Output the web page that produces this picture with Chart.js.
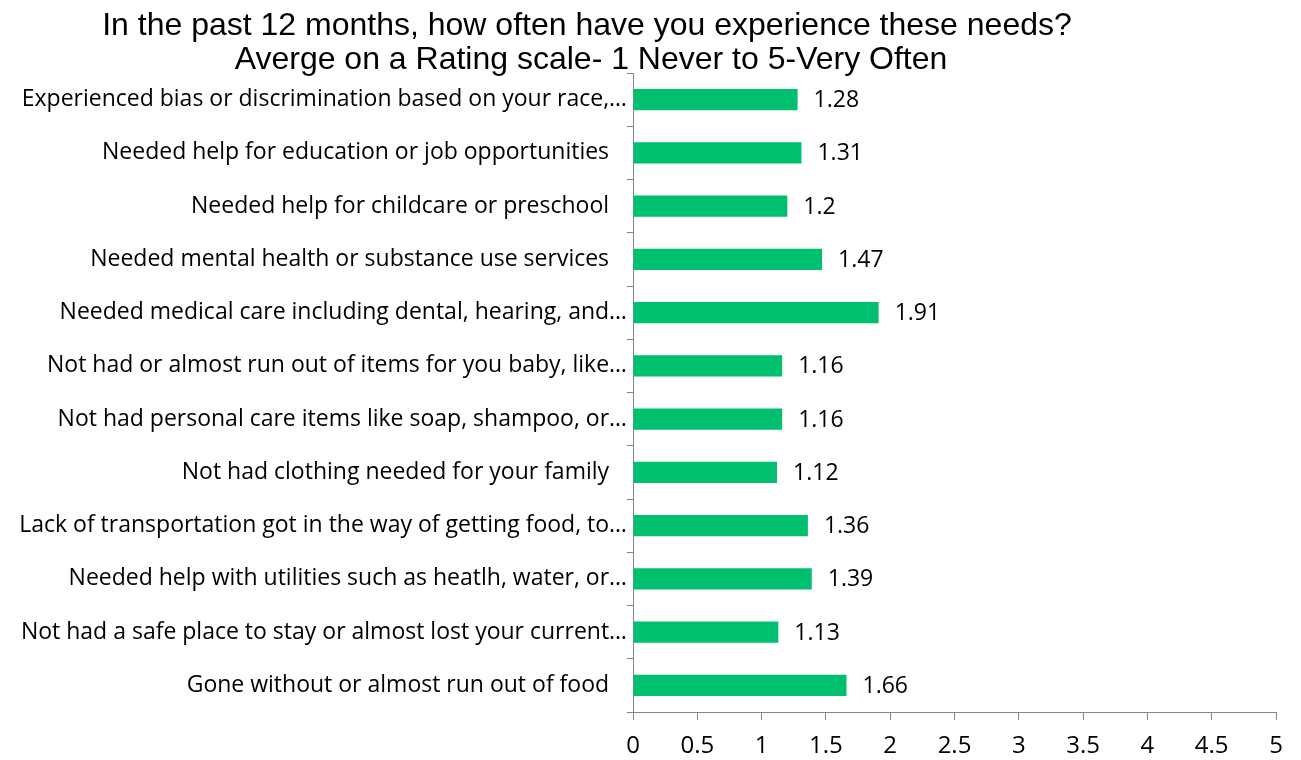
<!DOCTYPE html>
<html>
<head>
<meta charset="utf-8">
<title>Needs rating</title>
<script src="https://cdn.jsdelivr.net/npm/chart.js@4.4.1/dist/chart.umd.min.js"></script>
<style>
  body { margin: 0; background: #fff; }
  #wrap { width: 1301px; height: 760px; }
</style>
</head>
<body>
<div id="wrap"><canvas id="needs-chart" width="1301" height="760"></canvas></div>
<script>
    "use strict";

    // Data
    var titleLines = [
        "In the past 12 months, how often have you experience these needs?",
        "Averge on a Rating scale- 1 Never to 5-Very Often"
    ];
    var categories = [
        "Experienced bias or discrimination based on your race,\u2026",
        "Needed help for education or job opportunities   ",
        "Needed help for childcare or preschool   ",
        "Needed mental health or substance use services   ",
        "Needed medical care including dental, hearing, and\u2026",
        "Not had or almost run out of items for you baby, like\u2026",
        "Not had personal care items like soap, shampoo, or\u2026",
        "Not had clothing needed for your family   ",
        "Lack of transportation got in the way of getting food, to\u2026",
        "Needed help with utilities such as heatlh, water, or\u2026",
        "Not had a safe place to stay or almost lost your current\u2026",
        "Gone without or almost run out of food   "
    ];
    var averages = [1.28, 1.31, 1.2, 1.47, 1.91, 1.16, 1.16, 1.12, 1.36, 1.39, 1.13, 1.66];
    var axisMin = 0;
    var axisMax = 5;
    var axisStep = 0.5;

    var labelFont = "'Open Sans', sans-serif";
    var axisGray = "#868686";

    // Title drawn centred over the plot like the original
    var titlePlugin = {
        id: "twoLineTitle",
        afterDraw: function (chart) {
            var ctx = chart.ctx;
            ctx.save();
            ctx.fillStyle = "#000";
            ctx.font = "32px 'Liberation Sans', Arial, sans-serif";
            ctx.textAlign = "center";
            ctx.textBaseline = "middle";
            ctx.fillText(titleLines[0], 587, 26);
            ctx.fillText(titleLines[1], 591, 60);
            ctx.restore();
        }
    };

    // Value labels right of each bar
    var valuePlugin = {
        id: "valueLabels",
        afterDatasetsDraw: function (chart) {
            var ctx = chart.ctx;
            var meta = chart.getDatasetMeta(0);
            ctx.save();
            ctx.fillStyle = "#000";
            ctx.font = "23px " + labelFont;
            ctx.textAlign = "left";
            ctx.textBaseline = "middle";
            meta.data.forEach(function (bar, i) {
                ctx.fillText(String(averages[i]), bar.x + 16, bar.y + 1);
            });
            ctx.restore();
        }
    };

    var ctx1 = document.getElementById("needs-chart").getContext("2d");
    var needsChart = new Chart(ctx1, {
        type: "bar",
        data: {
            labels: categories,
            datasets: [{
                data: averages,
                backgroundColor: "#00BF6F",
                borderWidth: 0,
                barPercentage: 0.4,
                categoryPercentage: 1.0
            }]
        },
        options: {
            indexAxis: "y",
            responsive: false,
            animation: false,
            layout: {
                padding: { top: 73, right: 25, bottom: 0, left: 0 }
            },
            plugins: {
                legend: { display: false },
                tooltip: { enabled: false },
                title: { display: false }
            },
            scales: {
                x: {
                    min: axisMin,
                    max: axisMax,
                    ticks: {
                        stepSize: axisStep,
                        color: "#000",
                        padding: 12,
                        maxRotation: 0,
                        font: { family: labelFont, size: 24 },
                        callback: function (value) { return String(Number(value)); }
                    },
                    grid: {
                        drawOnChartArea: false,
                        color: axisGray,
                        tickLength: 8
                    },
                    border: { color: axisGray, width: 1 },
                    afterFit: function (scale) { scale.height = 48; }
                },
                y: {
                    ticks: {
                        color: "#000",
                        padding: 0,
                        autoSkip: false,
                        font: { family: labelFont, size: 23 }
                    },
                    grid: {
                        drawOnChartArea: false,
                        color: axisGray,
                        tickLength: 6
                    },
                    border: { color: axisGray, width: 1 },
                    afterFit: function (scale) { scale.width = 633; }
                }
            }
        },
        plugins: [titlePlugin, valuePlugin]
    });
</script>
</body>
</html>
